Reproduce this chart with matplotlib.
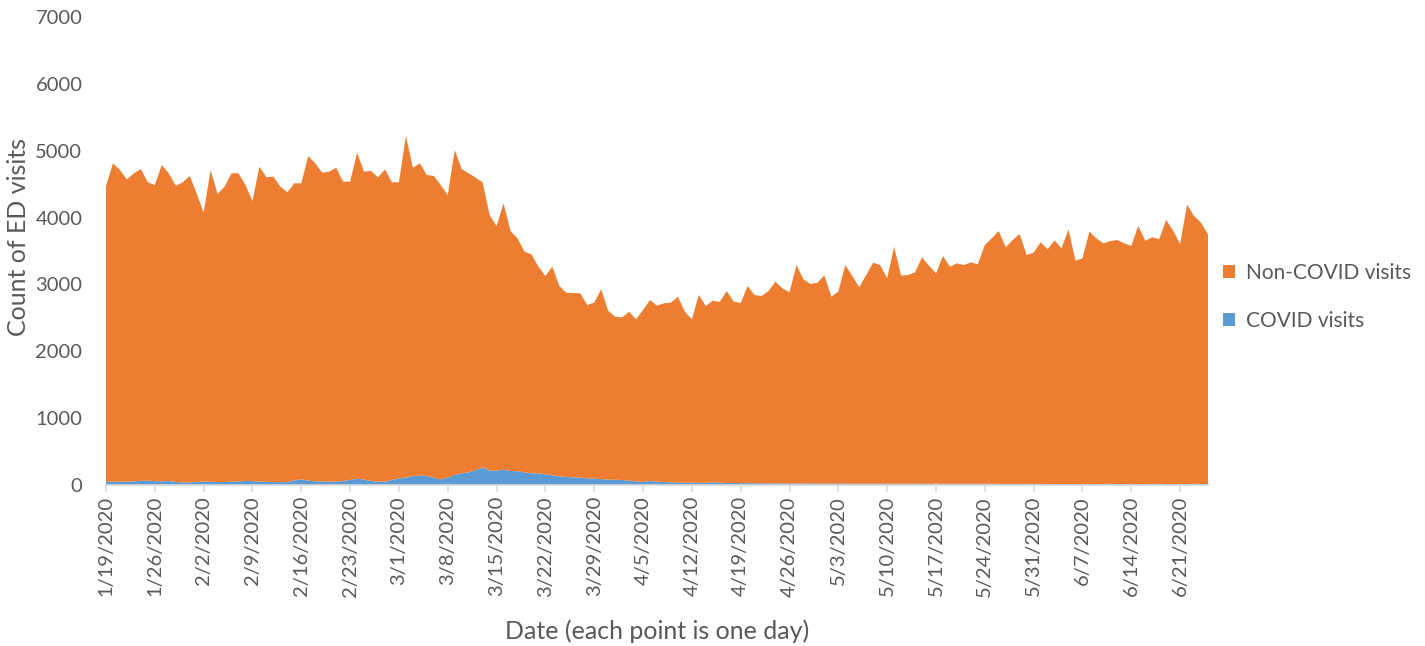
#import necessary libraries
import pandas as pd
import matplotlib
matplotlib.use("Agg")
import matplotlib.pyplot as plt
from matplotlib.patches import Patch

#font similar to Excel's Calibri
plt.rcParams['font.family'] = ['Lato', 'DejaVu Sans']

#first day of the series, one point per day
start_date = "2020-01-19"

#daily ED visits with COVID (bottom, blue)
covid_visits = [
    50, 50, 48, 50, 55, 62, 65, 58, 55, 62,
    45, 38, 40, 45, 50, 48, 45, 45, 50, 55,
    60, 58, 52, 48, 45, 42, 45, 70, 85, 65,
    55, 55, 52, 50, 60, 75, 95, 80, 60, 50,
    50, 75, 100, 110, 135, 140, 135, 110, 85, 110,
    150, 175, 190, 220, 265, 215, 215, 230, 210, 205,
    190, 175, 175, 160, 145, 130, 120, 115, 110, 100,
    95, 88, 80, 78, 75, 65, 55, 45, 60, 50,
    45, 40, 38, 35, 35, 33, 32, 40, 35, 30,
    30, 28, 28, 27, 26, 25, 25, 24, 24, 23,
    23, 22, 22, 22, 21, 21, 21, 20, 20, 20,
    20, 20, 19, 19, 19, 19, 18, 18, 18, 18,
    18, 18, 17, 17, 17, 17, 17, 17, 16, 16,
    16, 16, 16, 16, 16, 15, 15, 15, 15, 15,
    15, 16, 14, 15, 17, 15, 14, 16, 15, 13,
    17, 15, 14, 16, 15, 13, 17, 15, 14,
]

#daily non-COVID ED visits (stacked on top, orange)
non_covid_visits = [
    4422, 4761, 4663, 4522, 4607, 4664, 4462, 4429, 4731, 4600,
    4432, 4489, 4582, 4317, 4023, 4663, 4307, 4417, 4612, 4607,
    4427, 4190, 4709, 4554, 4567, 4420, 4332, 4442, 4427, 4856,
    4756, 4617, 4635, 4696, 4477, 4462, 4875, 4607, 4637, 4552,
    4671, 4452, 4427, 5110, 4611, 4671, 4502, 4512, 4402, 4227,
    4860, 4551, 4472, 4377, 4262, 3823, 3659, 3983, 3589, 3484,
    3300, 3275, 3090, 2966, 3120, 2846, 2756, 2756, 2756, 2592,
    2632, 2839, 2527, 2439, 2432, 2527, 2423, 2572, 2707, 2632,
    2672, 2687, 2779, 2557, 2443, 2809, 2645, 2717, 2702, 2872,
    2712, 2694, 2948, 2815, 2801, 2877, 3016, 2917, 2858, 3267,
    3053, 2984, 3004, 3114, 2796, 2871, 3269, 3106, 2937, 3121,
    3305, 3270, 3072, 3545, 3112, 3122, 3163, 3387, 3262, 3148,
    3407, 3247, 3298, 3273, 3313, 3283, 3573, 3672, 3783, 3539,
    3648, 3738, 3424, 3459, 3614, 3510, 3644, 3525, 3809, 3340,
    3375, 3773, 3675, 3600, 3632, 3649, 3601, 3559, 3859, 3641,
    3688, 3660, 3950, 3788, 3590, 4180, 4006, 3908, 3735,
]

#series names and colours (Office defaults)
series_names = ["COVID visits", "Non-COVID visits"]
series_colors = ["#5B9BD5", "#ED7D31"]
y_ticks = [0, 1000, 2000, 3000, 4000, 5000, 6000, 7000]

#build the date labels, one per point
dates = pd.date_range(start_date, periods=len(non_covid_visits), freq="D")
labels = [f"{d.month}/{d.day}/{d.year}" for d in dates]
x = list(range(len(dates)))

text_color = "#595959"

#set up the figure
fig = plt.figure(figsize=(14.25, 6.46), dpi=100)
ax = fig.add_axes([106 / 1425, 1 - 485 / 646, (1208 - 106) / 1425, (485 - 17) / 646])

#draw the stacked area
ax.stackplot(x, covid_visits, non_covid_visits, colors=series_colors, linewidth=0)

#axes limits and ticks
ax.set_xlim(0, len(x) - 1)
ax.set_ylim(0, 7000)
ax.set_yticks(y_ticks)
ax.set_xticks(x[::7])
ax.set_xticklabels(labels[::7], rotation=90)

#style like Excel: only a light bottom axis
for side in ["top", "right", "left"]:
    ax.spines[side].set_visible(False)
ax.spines["bottom"].set_color("#D9D9D9")
ax.spines["bottom"].set_linewidth(1.2)
ax.tick_params(axis="y", length=0, pad=17, labelsize=14.5, labelcolor=text_color)
ax.tick_params(axis="x", length=5, width=1.2, color="#D9D9D9", pad=3,
               labelsize=14.5, labelcolor=text_color)

#axis titles, placed where the reference has them
ax.set_xlabel("Date (each point is one day)", fontsize=18, color=text_color)
ax.set_ylabel("Count of ED visits", fontsize=18, color=text_color)
ax.xaxis.set_label_coords(0.5, (485 - 619) / 468)
ax.yaxis.set_label_coords((30 - 106) / 1102, (485 - 237) / 468)

#legend on the right, non-COVID listed first
handles = [Patch(facecolor=series_colors[1]), Patch(facecolor=series_colors[0])]
fig.legend(handles, [series_names[1], series_names[0]], loc="center left",
           bbox_to_anchor=(1204 / 1425, 1 - 297 / 646), frameon=False,
           fontsize=15, labelcolor=text_color, handlelength=0.6, handleheight=0.6,
           handletextpad=0.5, labelspacing=1.35)

#save the figure
fig.savefig("out.png", dpi=100)
